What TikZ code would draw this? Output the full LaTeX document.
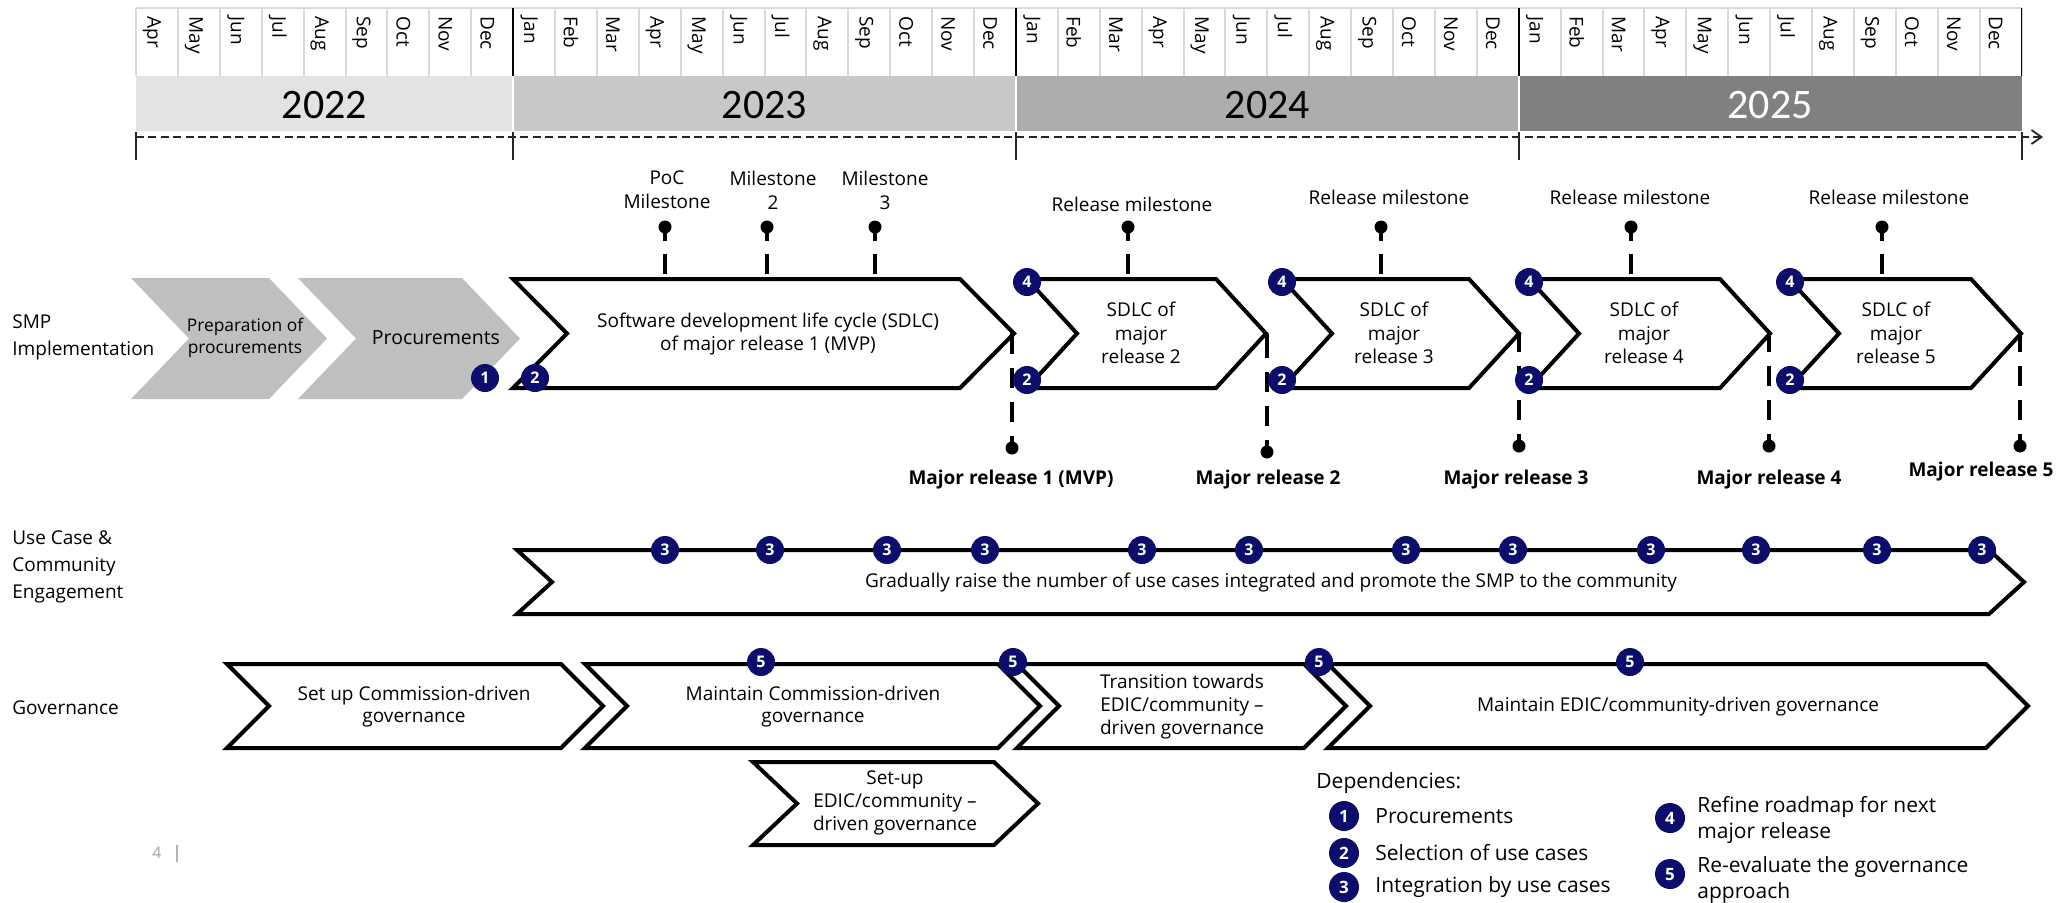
\documentclass[tikz,border=0pt]{standalone}
\usepackage{fontspec}
\setmainfont{Open Sans}
\newfontfamily\yearfont{Carlito}
\usetikzlibrary{arrows.meta}
\definecolor{navy}{HTML}{0D0D6B}
\definecolor{chevgray}{HTML}{BFBFBF}
\definecolor{yrA}{HTML}{E3E3E3}
\definecolor{yrB}{HTML}{C8C8C8}
\definecolor{yrC}{HTML}{ADADAD}
\definecolor{yrD}{HTML}{808080}
\definecolor{gridgray}{HTML}{D9D9D9}
\newcommand\chevshape[6]{% style, left, tip, top, bottom, depth
  \path[#1] (#2,#4) -- ({#3-#6},#4) -- (#3,{(#4+#5)/2}) -- ({#3-#6},#5) -- (#2,#5) -- ({#2+#6},{(#4+#5)/2}) -- cycle;}
\begin{document}
\begin{tikzpicture}[x=0.5pt,y=-0.5pt,
  txt/.style={font=\fontsize{9.5}{11.5}\selectfont, align=center, inner sep=0},
  rowlbl/.style={font=\fontsize{9.5}{13.5}\selectfont, align=left, anchor=west, inner sep=0},
  boldlbl/.style={font=\fontsize{9.5}{11.5}\selectfont\bfseries, inner sep=0},
  legtxt/.style={font=\fontsize{10.5}{13}\selectfont, align=left, anchor=west, inner sep=0},
  monthlbl/.style={font=\fontsize{9.5}{10}\selectfont, rotate=-90, anchor=west, inner sep=0},
  yearlbl/.style={font=\yearfont\fontsize{21}{21}\selectfont, inner sep=0},
  badge/.style={circle, fill=navy, text=white, minimum size=14pt, inner sep=0, font=\fontsize{8}{8}\selectfont\bfseries},
  legbadge/.style={badge, minimum size=15pt, font=\fontsize{8.5}{8.5}\selectfont\bfseries},
  pin/.style={circle, fill=black, minimum size=6.5pt, inner sep=0},
  pintop/.style={line width=1.6pt, dash pattern=on 7pt off 6.5pt on 10pt off 20pt},
  pinbot/.style={line width=1.6pt, dash pattern=on 6pt off 7pt on 10pt off 7pt on 10pt off 7pt on 12pt off 20pt},
  graychev/.style={fill=chevgray},
  whitechev/.style={fill=white, draw=black, line width=2pt, line join=miter},
]
\useasboundingbox (0,0) rectangle (2064,902);

% ---------- month row ----------
\draw[gridgray, line width=1pt] (136,8) -- (2021.5,8);
\foreach \i in {0,...,45} {
  \draw[gridgray, line width=1pt] ({136+41.9*\i},8) -- ({136+41.9*\i},76);
}
\foreach \i in {9,21,33,45} {
  \draw[black, line width=0.9pt] ({136+41.9*\i},8) -- ({136+41.9*\i},76);
}
\foreach \m [count=\i from 0] in {Apr,May,Jun,Jul,Aug,Sep,Oct,Nov,Dec,
  Jan,Feb,Mar,Apr,May,Jun,Jul,Aug,Sep,Oct,Nov,Dec,
  Jan,Feb,Mar,Apr,May,Jun,Jul,Aug,Sep,Oct,Nov,Dec,
  Jan,Feb,Mar,Apr,May,Jun,Jul,Aug,Sep,Oct,Nov,Dec} {
  \node[monthlbl] (m\i) at ({136+41.9*\i+16},16) {\m};
}

% ---------- year bands ----------
\fill[yrA] (136,76) rectangle (512.1,131);
\fill[yrB] (514.1,76) rectangle (1014.9,131);
\fill[yrC] (1016.9,76) rectangle (1517.7,131);
\fill[yrD] (1519.7,76) rectangle (2021.5,131);
\node[yearlbl] (y22) at (324.5,105) {2022};
\node[yearlbl] (y23) at (764.5,105) {2023};
\node[yearlbl] (y24) at (1267.3,105) {2024};
\node[yearlbl, text=white] (y25) at (1770.1,105) {2025};

% ---------- timeline ----------
\coordinate (tl0) at (136,137);
\coordinate (tl1) at (2043,137);
\draw[line width=1pt, black!85, dash pattern=on 4pt off 2.2pt, -{Straight Barb[length=5pt,width=7pt,line width=0.9pt]}] (tl0) -- (tl1);
\foreach \i in {0,9,21,33,45} {
  \draw[line width=1pt, black!85] ({136+41.9*\i},132) -- ({136+41.9*\i},160);
}

% ---------- row labels ----------
\node[rowlbl] (lsmp) at (12,337) {SMP\\Implementation};
\node[rowlbl] (luse) at (12,567) {Use Case \&\\Community\\Engagement};
\node[rowlbl] (lgov) at (12,708) {Governance};

% ---------- SMP implementation ----------
\chevshape{graychev}{131}{327}{278}{399}{58}
\chevshape{graychev}{298}{520}{278}{399}{58}
\node[txt, font=\fontsize{8.7}{11}\selectfont] (prep) at (245,338) {Preparation of\\procurements};
\node[txt, font=\fontsize{9.75}{11.5}\selectfont] (proc) at (436,338) {Procurements};

\chevshape{whitechev}{513}{1014}{279}{388}{54}
\chevshape{whitechev}{1027}{1266}{279}{388}{50}
\chevshape{whitechev}{1282}{1519}{279}{388}{50}
\chevshape{whitechev}{1529}{1770}{279}{388}{50}
\chevshape{whitechev}{1789}{2021}{279}{388}{50}

\node[txt] (sdlc1) at (768,334) {Software development life cycle (SDLC)\\of major release 1 (MVP)};
\node[txt, font=\fontsize{9.5}{11.75}\selectfont] (sdlc2) at (1141,333) {SDLC of\\major\\release 2};
\node[txt, font=\fontsize{9.5}{11.75}\selectfont] (sdlc3) at (1394,333) {SDLC of\\major\\release 3};
\node[txt, font=\fontsize{9.5}{11.75}\selectfont] (sdlc4) at (1644,333) {SDLC of\\major\\release 4};
\node[txt, font=\fontsize{9.5}{11.75}\selectfont] (sdlc5) at (1896,333) {SDLC of\\major\\release 5};

% top milestones
\node[txt, font=\fontsize{9.5}{12}\selectfont] (tpoc) at (667,190) {PoC\\Milestone};
\node[txt, font=\fontsize{9.5}{12}\selectfont] (tms2) at (773,190) {Milestone\\2};
\node[txt, font=\fontsize{9.5}{12}\selectfont] (tms3) at (885,190) {Milestone\\3};
\node[txt] (trm1) at (1132,204) {Release milestone};
\node[txt] (trm2) at (1389,197) {Release milestone};
\node[txt] (trm3) at (1630,197) {Release milestone};
\node[txt] (trm4) at (1889,197) {Release milestone};

\foreach \n/\x in {poc/665, ms2/767, ms3/875, rm1/1128, rm2/1381, rm3/1631, rm4/1882} {
  \node[pin] (p\n) at (\x,227) {};
  \coordinate (c\n) at (\x,279);
  \draw[pintop] (p\n.center) -- (c\n);
}

% bottom milestones (major releases)
\foreach \n/\x/\y in {1/1012/448, 2/1267/452, 3/1519/446, 4/1769/446, 5/2020/446} {
  \node[pin] (r\n) at (\x,\y) {};
  \coordinate (rt\n) at (\x,333);
  \draw[pinbot] (r\n.center) -- (rt\n);
}
\node[boldlbl] (mr1) at (1011,480) {Major release 1 (MVP)};
\node[boldlbl] (mr2) at (1268,480) {Major release 2};
\node[boldlbl] (mr3) at (1516,480) {Major release 3};
\node[boldlbl] (mr4) at (1769,480) {Major release 4};
\node[boldlbl] (mr5) at (1981,472) {Major release 5};

% badges SMP
\node[badge] (b1a) at (485,378) {1};
\node[badge] (b2a) at (535,378) {2};
\foreach \k/\x in {2/1027, 3/1282, 4/1529, 5/1790} {
  \node[badge] (b4s\k) at (\x,282) {4};
  \node[badge] (b2s\k) at (\x,380) {2};
}

% ---------- Use case row ----------
\chevshape{whitechev}{517}{2024}{550}{614}{35}
\node[txt] (usetxt) at (1271,582) {Gradually raise the number of use cases integrated and promote the SMP to the community};
\foreach \x [count=\i] in {665,770,887,985,1142,1249,1406,1513,1651,1756,1877,1982} {
  \node[badge] (b3u\i) at (\x,550) {3};
}

% ---------- Governance ----------
\chevshape{whitechev}{227}{603}{664}{748}{42}
\chevshape{whitechev}{585}{1040}{664}{748}{42}
\chevshape{whitechev}{1017}{1346}{664}{748}{42}
\chevshape{whitechev}{1328}{2028}{664}{748}{42}
\chevshape{whitechev}{753}{1038}{762}{845}{44}
\node[txt, font=\fontsize{9.5}{11}\selectfont] (gA) at (414,707) {Set up Commission-driven\\governance};
\node[txt, font=\fontsize{9.5}{11}\selectfont] (gB) at (813,707) {Maintain Commission-driven\\governance};
\node[txt] (gC) at (1182,707) {Transition towards\\EDIC/community –\\driven governance};
\node[txt] (gD) at (1678,707) {Maintain EDIC/community-driven governance};
\node[txt] (gE) at (895,803) {Set-up\\EDIC/community –\\driven governance};
\foreach \x [count=\i] in {761,1013,1319,1630} {
  \node[badge] (b5g\i) at (\x,662) {5};
}

% ---------- Legend ----------
\node[legtxt] (dep) at (1316,783) {Dependencies:};
\node[legbadge] (lb1) at (1344,816) {1};
\node[legbadge] (lb2) at (1344,853) {2};
\node[legbadge] (lb3) at (1344,887) {3};
\node[legbadge] (lb4) at (1670,818) {4};
\node[legbadge] (lb5) at (1670,874) {5};
\node[legtxt] (lt1) at (1375,816) {Procurements};
\node[legtxt] (lt2) at (1375,853) {Selection of use cases};
\node[legtxt] (lt3) at (1375,887) {Integration by use cases};
\node[legtxt] (lt4) at (1697,820) {Refine roadmap for next\\major release};
\node[legtxt] (lt5) at (1697,880) {Re-evaluate the governance\\approach};

% ---------- page number ----------
\node[inner sep=0, text=black!35, font=\fontsize{8}{8}\selectfont] (pg) at (157,853) {4};
\coordinate (pbar1) at (177,845);
\coordinate (pbar2) at (177,862);
\draw[black!30, line width=0.6pt] (pbar1) -- (pbar2);
\end{tikzpicture}
\end{document}
